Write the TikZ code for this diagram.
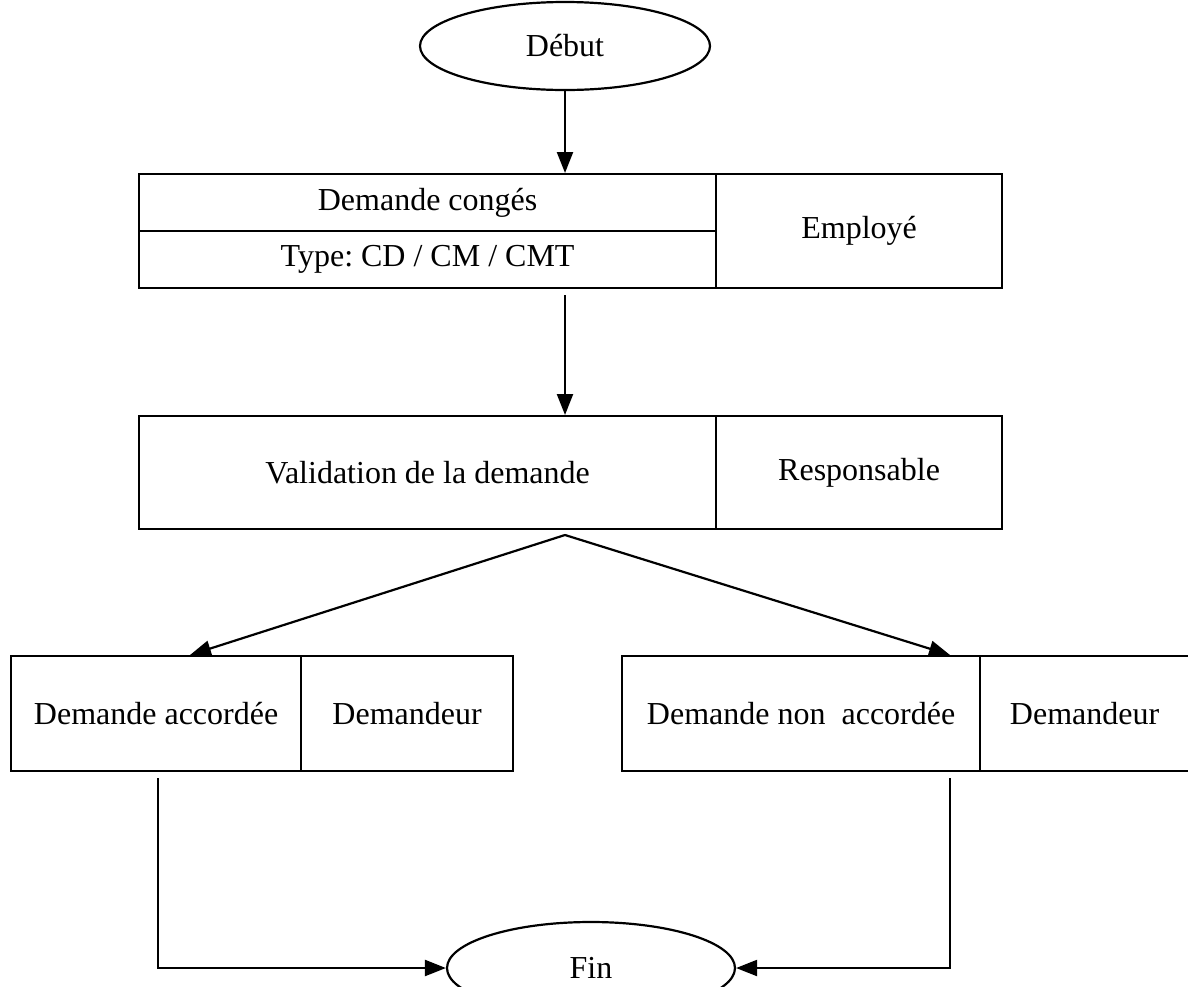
\documentclass[tikz,border=0pt]{standalone}
\usepackage{fontspec}
\setmainfont{Liberation Serif}
\usetikzlibrary{shapes.geometric,arrows.meta}
\begin{document}
\frenchspacing
\begin{tikzpicture}[x=1pt,y=-1pt,line width=2.2pt,
  txt/.style={font=\fontsize{32}{38}\selectfont},
  cell/.style={draw,rectangle,inner sep=0pt,anchor=north west,txt},
  term/.style={draw,ellipse,inner sep=0pt,txt},
  arr/.style={-{Triangle[length=21pt,width=16pt]}}]
\useasboundingbox (0,0) rectangle (1188,986);

% start / end terminals
\node[term,minimum width=290pt,minimum height=88pt] (deb) at (565,46) {Début};
\node[term,minimum width=288pt,minimum height=92pt] (fin) at (591,968) {Fin};

% request box
\node[cell,minimum width=577pt,minimum height=57pt] (dc) at (138,173) {Demande congés};
\node[cell,minimum width=577pt,minimum height=57pt] (ty) at (138,230) {Type: CD / CM / CMT};
\node[cell,minimum width=286pt,minimum height=114pt] (emp) at (715,173) {Employé};

% validation box
\node[cell,minimum width=577pt,minimum height=113pt] (val) at (138,415) {Validation de la demande};
\node[cell,minimum width=286pt,minimum height=113pt] (resp) at (715,415) {Responsable};

% outcome boxes
\node[cell,minimum width=290pt,minimum height=115pt] (acc) at (10,655) {Demande accordée};
\node[cell,minimum width=212pt,minimum height=115pt] (dem1) at (300,655) {Demandeur};
\node[cell,minimum width=358pt,minimum height=115pt] (nacc) at (621,655) {Demande non\ \ accordée};
\node[cell,minimum width=209pt,minimum height=115pt] (dem2) at (979,655) {Demandeur};

% connector anchors
\coordinate (s2) at (565,295);
\coordinate (s3) at (565,535);
\coordinate (t3a) at (190,655);
\coordinate (t3b) at (950,655);
\coordinate (s4a) at (158,778);
\coordinate (s4b) at (950,778);

\draw[arr] (deb.south) -- (deb.south |- dc.north);
\draw[arr] (s2) -- (s2 |- val.north);
\draw[arr] (s3) -- (t3a);
\draw[arr] (s3) -- (t3b);
\draw[arr] (s4a) |- (fin.west);
\draw[arr] (s4b) |- (fin.east);
\end{tikzpicture}
\end{document}
